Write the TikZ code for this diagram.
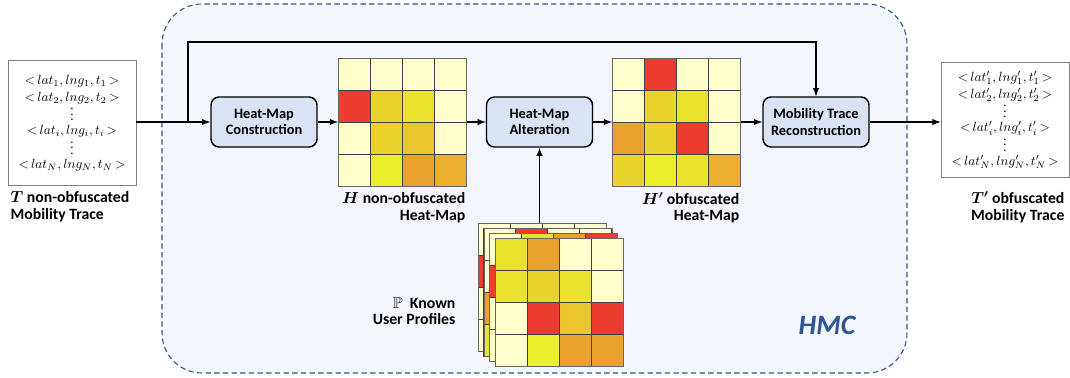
\documentclass[tikz,border=0pt]{standalone}
\usepackage{amsmath,amssymb,bm}
\usepackage{fontspec}
\setmainfont{Carlito}
\usepackage{tikz}
\usetikzlibrary{positioning, arrows, calc}

\definecolor{hmcblue}{HTML}{2F5597}
\definecolor{hmcbg}{HTML}{F3F6FC}
\definecolor{boxfill}{HTML}{DAE3F3}
\definecolor{pale}{HTML}{FFFFCC}
\definecolor{hred}{HTML}{EE3B2F}
\definecolor{must}{HTML}{EBD32E}
\definecolor{yel}{HTML}{EBE22E}
\definecolor{gold}{HTML}{EBC52E}
\definecolor{bri}{HTML}{EBF02C}
\definecolor{ora}{HTML}{EBA12E}
\definecolor{orb}{HTML}{EBAE2E}

\newcommand{\pt}[3]{${<}\,#1,#2,#3\,{>}$}
\newcommand{\vd}{\raisebox{-2pt}[7pt][0pt]{$\vdots$}}

\tikzset{
  proc/.style={rectangle, rounded corners=6pt, draw, line width=1.1pt, fill=boxfill, minimum width=79.5pt, minimum height=37.5pt, align=center, inner sep=1pt, font=\bfseries\fontsize{10.8}{12.5}\selectfont},
  trace/.style={rectangle, draw=black!50, line width=0.6pt, fill=white, minimum width=96pt, align=center, inner sep=0pt, font=\fontsize{9.6}{12.6}\selectfont},
  arr/.style={-latex, line width=1.1pt},
  cell/.style={draw=black!75, line width=0.5pt},
  lbl/.style={font=\bfseries\fontsize{11.8}{12.5}\selectfont, inner sep=1pt}
}

% 4x4 heat-map, colours given row by row
\newcommand{\heatgrid}[3]{%
  \foreach \c [count=\k from 0] in {#3} {
    \pgfmathtruncatemacro{\cx}{mod(\k,4)}
    \pgfmathtruncatemacro{\cy}{div(\k,4)}
    \filldraw[cell, fill=\c] ($#2+(\cx*32,\cy*32)$) rectangle ++(32,32);
  }
  \node[draw=black!60, line width=0.6pt, minimum size=96pt, inner sep=0pt, anchor=north west] (#1) at #2 {};
}

\begin{document}
\begin{tikzpicture}[x=0.75pt, y=-0.75pt]
\useasboundingbox (0,0) rectangle (1070,378);

% HMC area
\draw[dash pattern=on 4pt off 2.5pt, draw=hmcblue, line width=0.8pt, fill=hmcbg, rounded corners=30pt] (162,4) rectangle (907,373);
\node[font=\bfseries\itshape\fontsize{21}{24}\selectfont, text=hmcblue] (hmc) at (827,325) {HMC};

% traces
\node[trace, minimum height=94pt] (Tin) at (72,123) {%
  \pt{lat_1}{lng_1}{t_1}\\\pt{lat_2}{lng_2}{t_2}\\\vd\\\pt{lat_i}{lng_i}{t_i}\\\vd\\\pt{lat_N}{lng_N}{t_N}};
\node[trace, minimum height=86pt] (Tout) at (1005,120) {%
  \pt{lat'_1}{lng'_1}{t'_1}\\\pt{lat'_2}{lng'_2}{t'_2}\\\vd\\\pt{lat'_i}{lng'_i}{t'_i}\\\vd\\\pt{lat'_N}{lng'_N}{t'_N}};
\node[lbl, anchor=north west, align=left] (Tinlab) at (9,190) {$\bm{T}$ non-obfuscated\\Mobility Trace};
\node[lbl, anchor=north east, align=right] (Toutlab) at (1066,190) {$\bm{T'}$ obfuscated\\Mobility Trace};

% processing steps
\node[proc] (cons) at (264,122) {Heat-Map\\Construction};
\node[proc] (alter) at (539.5,122) {Heat-Map\\Alteration};
\node[proc] (recon) at (816,122) {Mobility Trace\\Reconstruction};

% heat-maps
\heatgrid{H}{(338,58)}{pale,pale,pale,pale, hred,must,yel,pale, pale,must,gold,pale, pale,bri,ora,orb}
\heatgrid{Hp}{(612,58)}{pale,hred,pale,pale, pale,must,yel,pale, ora,must,hred,pale, must,bri,yel,orb}
\node[lbl, anchor=north east, align=right] (Hlab) at ($(H.south east)+(0,4)$) {$\bm{H}$ non-obfuscated\\Heat-Map};
\node[lbl, anchor=north east, align=right] (Hplab) at ($(Hp.south east)+(0,4)$) {$\bm{H'}$ obfuscated\\Heat-Map};

% known user profiles
\heatgrid{P1}{(478,223)}{pale,pale,pale,pale, hred,pale,pale,pale, pale,pale,pale,pale, pale,pale,pale,pale}
\heatgrid{P2}{(483.5,228)}{pale,hred,pale,pale, pale,pale,pale,pale, ora,pale,pale,pale, yel,pale,pale,pale}
\heatgrid{P3}{(489,233)}{pale,yel,ora,hred, hred,pale,pale,pale, pale,pale,pale,pale, pale,pale,pale,pale}
\heatgrid{P4}{(495,238)}{yel,ora,pale,pale, yel,must,yel,pale, pale,hred,gold,hred, pale,bri,ora,ora}
\node[lbl, anchor=east, align=right] (Plab) at (457,311) {$\mathbb{P}$\ \ Known\\User Profiles};

% connectors
\coordinate (split) at (188,122);
\coordinate (turn) at (188,42);
\draw[arr] (Tin.east |- cons.west) -- (cons.west);
\draw[arr] (split) -- (turn) -| (recon.north);
\draw[arr] (cons.east) -- (H.west |- cons.east);
\draw[arr] (H.east |- alter.west) -- (alter.west);
\draw[arr] (alter.east) -- (Hp.west |- alter.east);
\draw[arr] (Hp.east |- recon.west) -- (recon.west);
\draw[arr] (recon.east) -- (Tout.west |- recon.east);
\draw[arr] (P1.north -| alter.south) -- (alter.south);
\end{tikzpicture}
\end{document}
